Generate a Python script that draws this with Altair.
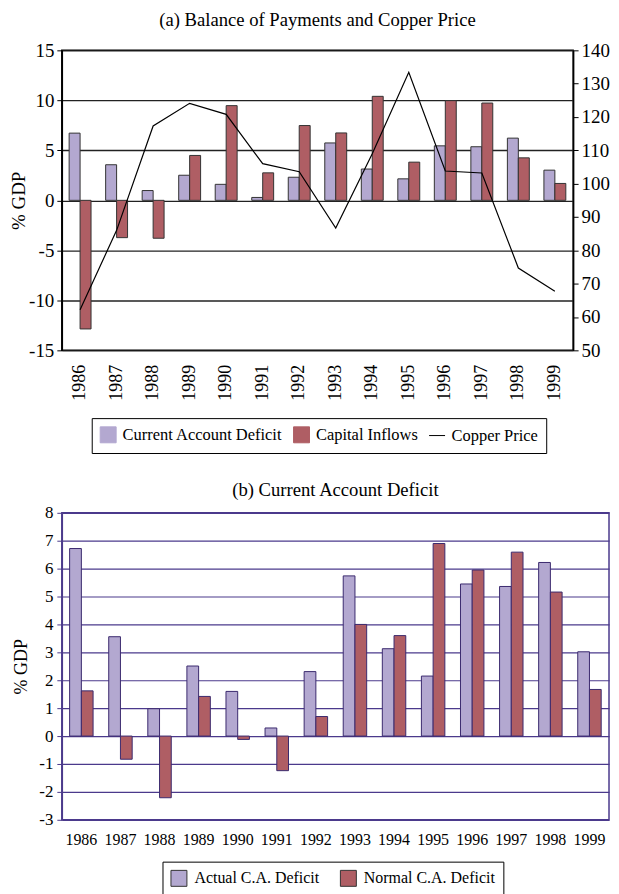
import altair as alt
import pandas as pd

FONT = "Liberation Serif"
LIGHT = "#B3A8D0"
DARK = "#AF5E64"
PURPLE = "#4B3A8C"

years = ["1986", "1987", "1988", "1989", "1990", "1991", "1992",
         "1993", "1994", "1995", "1996", "1997", "1998", "1999"]
ca_deficit = [6.72, 3.56, 0.98, 2.51, 1.60, 0.29, 2.31, 5.74, 3.13, 2.15, 5.45, 5.36, 6.22, 3.02]
capital_inflows = [-12.86, -3.73, -3.79, 4.49, 9.47, 2.75, 7.48, 6.74, 10.40, 3.82, 9.97, 9.73, 4.25, 1.69]
copper_price = [62.2, 86.0, 117.3, 124.1, 120.8, 106.0, 103.6, 86.7, 109.0, 133.4, 103.8, 103.2, 74.7, 67.7]
normal_ca = [1.62, -0.83, -2.21, 1.42, -0.12, -1.24, 0.70, 4.00, 3.60, 6.90, 5.95, 6.59, 5.16, 1.67]

left_ticks_a = [-15, -10, -5, 0, 5, 10, 15]
right_ticks_a = [50, 60, 70, 80, 90, 100, 110, 120, 130, 140]
ticks_b = [-3, -2, -1, 0, 1, 2, 3, 4, 5, 6, 7, 8]

series_a = ["Current Account Deficit", "Capital Inflows", "Copper Price"]
series_b = ["Actual C.A. Deficit", "Normal C.A. Deficit"]

df_a = pd.DataFrame(
    [{"year": y, "series": series_a[0], "value": v} for y, v in zip(years, ca_deficit)]
    + [{"year": y, "series": series_a[1], "value": v} for y, v in zip(years, capital_inflows)]
)
df_line = pd.DataFrame({"year": years, "copper": copper_price, "series": series_a[2]})
df_legend = pd.DataFrame({"series": series_a})
df_b = pd.DataFrame(
    [{"year": y, "series_b": series_b[0], "value": v} for y, v in zip(years, ca_deficit)]
    + [{"year": y, "series_b": series_b[1], "value": v} for y, v in zip(years, normal_ca)]
)

HYPHEN = "toString(datum.value)"

# ---------- (a) ----------
legend_a = alt.Legend(
    orient="none", legendX=30, legendY=369, direction="horizontal", title=None,
    labelFont=FONT, labelFontSize=16.5, labelColor="black", labelOffset=6, labelLimit=400,
    symbolSize=256, symbolStrokeWidth=1, symbolStrokeColor="#333333", symbolOpacity=1,
    padding=8, strokeColor="black", fillColor="white", columnPadding=8,
)
color_a = alt.Color("series:N", scale=alt.Scale(domain=series_a, range=[LIGHT, DARK, "#000000"]),
                    legend=legend_a)

x_a = alt.X("year:O", sort=years, scale=alt.Scale(paddingInner=0.4, paddingOuter=0.2),
            axis=alt.Axis(title=None, labelAngle=-90, labelFontSize=18, labelPadding=14,
                          ticks=False, domain=False, labelColor="black", labelFont=FONT))

bars_a = alt.Chart(df_a).mark_bar(stroke="#333333", strokeWidth=1).encode(
    x=x_a,
    xOffset=alt.XOffset("series:N", sort=series_a[:2],
                        scale=alt.Scale(domain=series_a[:2], paddingInner=0, paddingOuter=0)),
    y=alt.Y("value:Q", scale=alt.Scale(domain=[-15, 15], nice=False, zero=False),
            axis=alt.Axis(values=left_ticks_a, labelExpr=HYPHEN, title="% GDP",
                          titleFont=FONT, titleFontSize=19,
                          titleFontWeight="normal", titleColor="black", titlePadding=0,
                          labelFont=FONT, labelFontSize=19, labelColor="black", labelPadding=3,
                          grid=True, gridColor="#222222", gridWidth=1.4,
                          domain=True, domainColor="black", domainWidth=1.5,
                          ticks=True, tickColor="black", tickSize=5)),
    color=color_a,
)

line_a = alt.Chart(df_line).mark_line(strokeWidth=1.2).encode(
    x=x_a,
    y=alt.Y("copper:Q", scale=alt.Scale(domain=[50, 140], nice=False, zero=False),
            axis=alt.Axis(orient="right", values=right_ticks_a, title=None,
                          labelFont=FONT, labelFontSize=19, labelColor="black", labelPadding=3,
                          grid=False, domain=True, domainColor="black", domainWidth=1.5,
                          ticks=True, tickColor="black", tickSize=5)),
    color=color_a,
)

# legend-only layer (no rows survive the filter): supplies per-entry symbol shapes
legend_layer = alt.Chart(df_legend).mark_point(filled=True, strokeWidth=1, opacity=1).encode(
    color=color_a,
    shape=alt.Shape("series:N", scale=alt.Scale(domain=series_a, range=["square", "square", "stroke"]),
                    legend=legend_a),
    stroke=alt.Stroke("series:N", scale=alt.Scale(domain=series_a, range=["#333333", "#333333", "#7A62B0"]),
                      legend=legend_a),
).transform_filter("false")

top = alt.layer(bars_a, line_a, legend_layer).resolve_scale(y="independent").properties(
    width=513, height=301,
    title=alt.Title("(a) Balance of Payments and Copper Price", font=FONT, fontSize=18.7,
                    fontWeight="normal", color="black", offset=12),
    view=alt.ViewBackground(stroke="black", strokeWidth=1.5),
)

# ---------- (b) ----------
legend_b = alt.Legend(
    orient="none", legendX=101, legendY=350, direction="horizontal", title=None,
    labelFont=FONT, labelFontSize=16, labelColor="black", labelOffset=7, labelLimit=400,
    symbolSize=256, symbolStrokeWidth=1, symbolStrokeColor="#333333", symbolType="square",
    symbolOpacity=1, padding=8, strokeColor="black", fillColor="white", columnPadding=18,
)

bars_b = alt.Chart(df_b).mark_bar(stroke="#3B2A6E", strokeWidth=1).encode(
    x=alt.X("year:O", sort=years, scale=alt.Scale(paddingInner=0.4, paddingOuter=0.2),
            axis=alt.Axis(title=None, labelAngle=0, labelFontSize=16, labelPadding=12,
                          ticks=False, domain=False, labelColor="black", labelFont=FONT)),
    xOffset=alt.XOffset("series_b:N", sort=series_b,
                        scale=alt.Scale(domain=series_b, paddingInner=0, paddingOuter=0)),
    y=alt.Y("value:Q", scale=alt.Scale(domain=[-3, 8], nice=False, zero=False),
            axis=alt.Axis(values=ticks_b, labelExpr=HYPHEN, title="% GDP",
                          titleFont=FONT, titleFontSize=18,
                          titleFontWeight="normal", titleColor="black", titlePadding=8,
                          labelFont=FONT, labelFontSize=17, labelColor="black", labelPadding=4,
                          grid=True, gridColor=PURPLE, gridWidth=1.2,
                          domain=True, domainColor=PURPLE, domainWidth=1.5,
                          ticks=True, tickColor=PURPLE, tickSize=5)),
    color=alt.Color("series_b:N", scale=alt.Scale(domain=series_b, range=[LIGHT, DARK]),
                    legend=legend_b),
).properties(
    width=549, height=308,
    title=alt.Title("(b) Current Account Deficit", font=FONT, fontSize=18.7,
                    fontWeight="normal", color="black", offset=4),
    view=alt.ViewBackground(stroke=PURPLE, strokeWidth=1.5),
)

chart = alt.vconcat(top, bars_b, spacing=25).resolve_scale(
    color="independent", shape="independent", stroke="independent",
    xOffset="independent", x="independent", y="independent"
).resolve_legend(
    color="independent", shape="independent", stroke="independent"
).properties(
    padding={"left": 0, "top": 0, "right": 0, "bottom": 0}
).configure(font=FONT).configure_legend(
    labelFont=FONT
).configure_axis(
    labelFont=FONT, titleFont=FONT
).configure_title(font=FONT)

chart.save("out.html", embed_options={"renderer": "svg", "actions": False})
